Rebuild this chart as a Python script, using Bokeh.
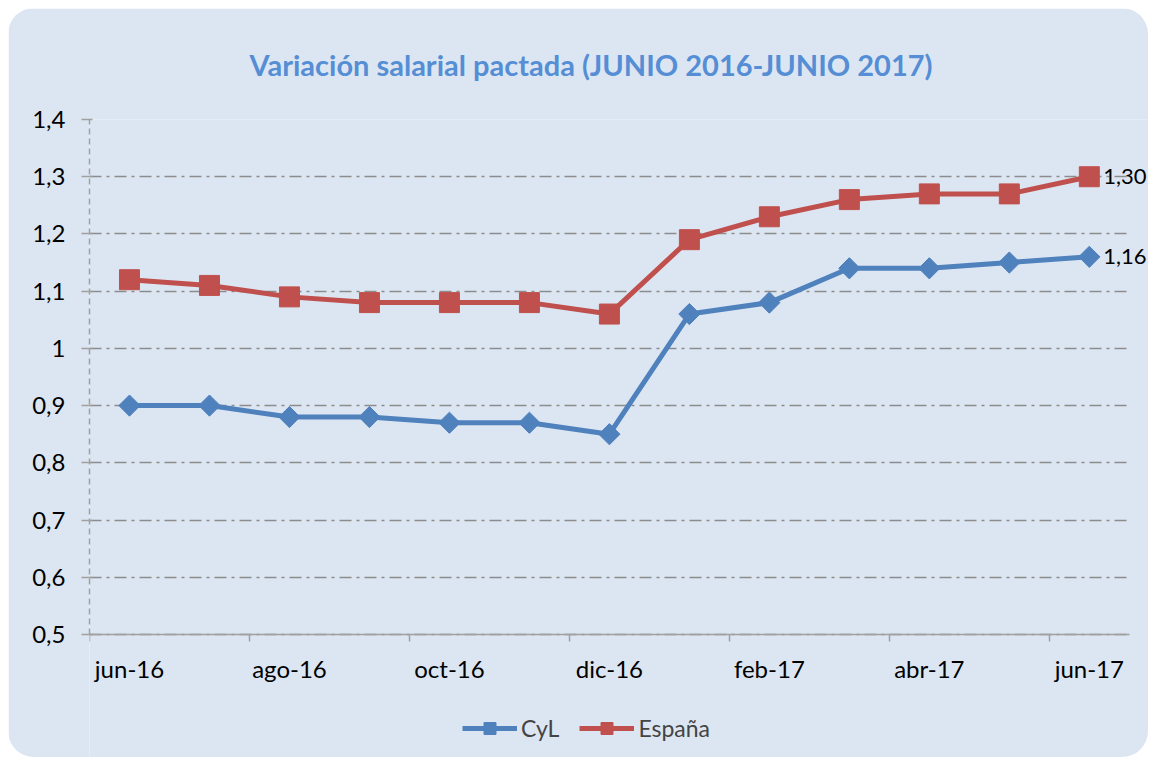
from bokeh.plotting import figure
from bokeh.models import FixedTicker, Legend, LegendItem, Label, Range1d
from bokeh.embed import file_html
from bokeh.resources import INLINE
import math

months = ["jun-16", "jul-16", "ago-16", "sep-16", "oct-16", "nov-16", "dic-16",
          "ene-17", "feb-17", "mar-17", "abr-17", "may-17", "jun-17"]
cyl = [0.90, 0.90, 0.88, 0.88, 0.87, 0.87, 0.85, 1.06, 1.08, 1.14, 1.14, 1.15, 1.16]
espana = [1.12, 1.11, 1.09, 1.08, 1.08, 1.08, 1.06, 1.19, 1.23, 1.26, 1.27, 1.27, 1.30]
y_ticks = [0.5, 0.6, 0.7, 0.8, 0.9, 1.0, 1.1, 1.2, 1.3, 1.4]
y_tick_labels = ["0,5", "0,6", "0,7", "0,8", "0,9", "1", "1,1", "1,2", "1,3", "1,4"]
title_text = "Variación salarial pactada (JUNIO 2016-JUNIO 2017)"

BG = "#DCE6F2"
BLUE = "#4F81BD"
RED = "#C0504D"
GRID = "#8C8C8C"
AXIS = "#A0A0A0"
FONT = "Lato"

n = len(months)
xs = [i + 0.5 for i in range(n)]

p = figure(width=1140, height=749, output_backend="svg", toolbar_location=None,
           x_range=Range1d(0, 13.24), y_range=Range1d(0.285, y_ticks[-1]),
           min_border_left=81, min_border_right=0, min_border_top=111, min_border_bottom=0)
p.styles = {"border-radius": "26px", "overflow": "hidden",
            "margin-left": "8px", "margin-top": "8px"}
p.background_fill_color = BG
p.border_fill_color = BG
p.outline_line_color = None

p.title.text = title_text
p.title.text_font = FONT
p.title.text_font_style = "bold"
p.title.text_font_size = "29px"
p.title.text_color = "#558ED5"
p.title.align = "left"
p.title.vertical_align = "top"
p.title.offset = 160
p.title.standoff = 72

# x axis, placed at the bottom value of the y scale inside the frame
xa = p.xaxis[0]
xa.fixed_location = y_ticks[0]
xa.bounds = (0, n)
xa.ticker = FixedTicker(ticks=[xs[i] for i in range(0, n, 2)],
                        minor_ticks=[float(i) for i in range(0, n, 2)])
xa.major_label_overrides = {xs[i]: months[i] for i in range(n)}
xa.major_tick_line_color = None
xa.minor_tick_line_color = AXIS
xa.minor_tick_line_width = 1.5
xa.minor_tick_in = 0
xa.minor_tick_out = 7
xa.axis_line_color = AXIS
xa.axis_line_width = 1.5
xa.major_label_text_font = FONT
xa.major_label_text_font_size = "24px"
xa.major_label_text_color = "black"
xa.major_label_standoff = 13

# y axis
ya = p.yaxis[0]
ya.bounds = (y_ticks[0], y_ticks[-1])
ya.ticker = FixedTicker(ticks=y_ticks)
ya.major_label_overrides = {t: l for t, l in zip(y_ticks, y_tick_labels)}
ya.minor_tick_line_color = None
ya.major_tick_line_color = AXIS
ya.major_tick_line_width = 1.5
ya.major_tick_in = 3
ya.major_tick_out = 8
ya.axis_line_color = AXIS
ya.axis_line_width = 1.5
ya.axis_line_dash = "6 4"
ya.major_label_text_font = FONT
ya.major_label_text_font_size = "24px"
ya.major_label_text_color = "black"
ya.major_label_standoff = 16

p.xgrid.grid_line_color = None
p.ygrid.grid_line_color = GRID
p.ygrid.grid_line_width = 1.5
p.ygrid.grid_line_dash = "12 5 3 5"
p.ygrid.bounds = (y_ticks[0], y_ticks[-1])
try:
    p.ygrid.cross_bounds = (0, n)
except AttributeError:
    pass

l1 = p.line(xs, cyl, line_color=BLUE, line_width=5)
m1 = p.scatter(xs, cyl, marker="square", size=15, angle=math.pi / 4,
               fill_color=BLUE, line_color=BLUE)
l2 = p.line(xs, espana, line_color=RED, line_width=5)
m2 = p.scatter(xs, espana, marker="square", size=20, fill_color=RED, line_color=RED)

for series in (espana, cyl):
    p.add_layout(Label(x=xs[-1], y=series[-1], text=f"{series[-1]:.2f}".replace(".", ","),
                       x_offset=14, y_offset=0, text_baseline="middle",
                       text_font=FONT, text_font_size="22px", text_color="black"))

legend = Legend(items=[LegendItem(label="CyL", renderers=[l1, m1]),
                       LegendItem(label="España", renderers=[l2, m2])],
                orientation="horizontal", location=(373, 14),
                background_fill_alpha=0, border_line_color=None,
                label_text_font=FONT, label_text_font_size="23px",
                glyph_width=55, glyph_height=30, label_standoff=4, spacing=20,
                margin=0, padding=4)
p.add_layout(legend, "center")

open("out.html", "w").write(file_html(p, INLINE))
